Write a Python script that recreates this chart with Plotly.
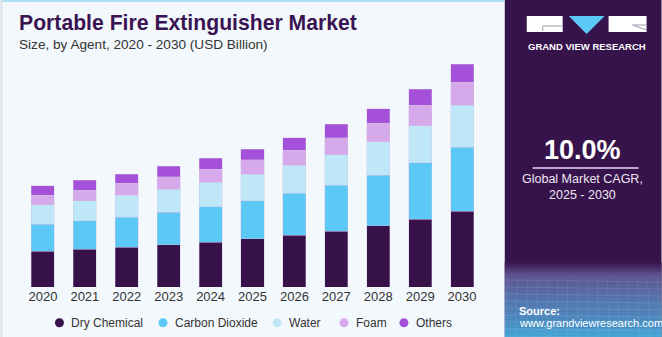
import plotly.graph_objects as go

# Market size by agent, USD billion
years = ["2020", "2021", "2022", "2023", "2024", "2025", "2026", "2027", "2028", "2029", "2030"]
dry_chemical = [3.19, 3.37, 3.55, 3.76, 4.00, 4.30, 4.65, 5.01, 5.49, 6.06, 6.77]
carbon_dioxide = [2.42, 2.56, 2.71, 2.95, 3.16, 3.40, 3.73, 4.09, 4.51, 5.06, 5.73]
water = [1.73, 1.79, 1.97, 2.03, 2.21, 2.39, 2.51, 2.74, 3.01, 3.31, 3.76]
foam = [0.89, 0.96, 1.05, 1.13, 1.16, 1.28, 1.37, 1.52, 1.65, 1.85, 2.06]
others = [0.81, 0.89, 0.83, 0.93, 0.98, 0.98, 1.10, 1.20, 1.31, 1.43, 1.61]

series_names = ["Dry Chemical", "Carbon Dioxide", "Water", "Foam", "Others"]
series_values = [dry_chemical, carbon_dioxide, water, foam, others]
series_colors = ["#36114A", "#5BC8F5", "#BEE8F8", "#D5A9EA", "#A550D8"]

label_year = "2023"
cagr_text = "10.0%"

W, H = 662, 337
L, R, T, B = 21.5, 178.8, 50, 50
PW, PH = W - L - R, H - T - B
FONT = "Liberation Sans"


def xp(px):
    return (px - L) / PW


def yp(py):
    return (H - B - py) / PH


fig = go.Figure()
for name, vals, col in zip(series_names, series_values, series_colors):
    fig.add_trace(go.Bar(
        x=years, y=vals, name=name, marker_color=col,
        marker_line=dict(color="rgba(210,190,230,0.6)", width=0.6),
        showlegend=False, hoverinfo="skip",
    ))

totals = [sum(v) for v in zip(*series_values)]
idx = years.index(label_year)

shapes = []
annotations = []

# right side panel
shapes.append(dict(type="rect", xref="paper", yref="paper", x0=xp(505), x1=xp(662),
                   y0=yp(337), y1=yp(0), fillcolor="#37134B", line_width=0, layer="below"))
# gradient at the bottom of the panel
g_top, g_bot = 262, 337
n = 38
c0 = (55, 19, 75)
c1 = (95, 85, 145)
c2 = (70, 165, 215)
for i in range(n):
    y0 = g_top + (g_bot - g_top) * i / n
    y1 = g_top + (g_bot - g_top) * (i + 1) / n
    t = (i + 0.5) / n
    if t < 0.18:
        s = t / 0.18
        c = tuple(int(c0[k] + (c1[k] - c0[k]) * s) for k in range(3))
    else:
        s = (t - 0.18) / 0.82
        c = tuple(int(c1[k] + (c2[k] - c1[k]) * s) for k in range(3))
    shapes.append(dict(type="rect", xref="paper", yref="paper", x0=xp(505), x1=xp(662),
                       y0=yp(y1 + 0.5), y1=yp(y0), fillcolor="rgb(%d,%d,%d)" % c,
                       line_width=0, layer="below"))
# faint mesh texture lines
for k in range(9):
    yy = 280 + k * 7
    shapes.append(dict(type="line", xref="paper", yref="paper", x0=xp(505), x1=xp(662),
                       y0=yp(yy), y1=yp(yy + 2), line=dict(color="rgba(200,220,255,0.14)", width=1)))
for k in range(16):
    xx = 508 + k * 10
    shapes.append(dict(type="line", xref="paper", yref="paper", x0=xp(xx), x1=xp(xx - 3 + k * 0.4),
                       y0=yp(278), y1=yp(337), line=dict(color="rgba(200,220,255,0.10)", width=1)))

# top and left border lines
shapes.append(dict(type="rect", xref="paper", yref="paper", x0=xp(0), x1=xp(505),
                   y0=yp(2), y1=yp(0), fillcolor="#AEE0F4", line_width=0, layer="below"))
shapes.append(dict(type="rect", xref="paper", yref="paper", x0=xp(0), x1=xp(2),
                   y0=yp(337), y1=yp(0), fillcolor="#DDE2E8", line_width=0, layer="below"))

# logo
shapes.append(dict(type="rect", xref="paper", yref="paper", x0=xp(527), x1=xp(563),
                   y0=yp(32), y1=yp(16), fillcolor="white", line_width=0))
shapes.append(dict(type="rect", xref="paper", yref="paper", x0=xp(609), x1=xp(647),
                   y0=yp(32), y1=yp(16), fillcolor="white", line_width=0))
tri = "M %f,%f L %f,%f L %f,%f Z" % (xp(569), yp(16), xp(605), yp(16), xp(587), yp(34))
shapes.append(dict(type="path", xref="paper", yref="paper", path=tri, fillcolor="#5BC8F5", line_width=0))
shapes.append(dict(type="line", xref="paper", yref="paper", x0=xp(543), x1=xp(563),
                   y0=yp(26), y1=yp(26), line=dict(color="#9A9AA8", width=1)))
shapes.append(dict(type="line", xref="paper", yref="paper", x0=xp(543), x1=xp(543),
                   y0=yp(26), y1=yp(31), line=dict(color="#9A9AA8", width=1)))
shapes.append(dict(type="line", xref="paper", yref="paper", x0=xp(633), x1=xp(647),
                   y0=yp(25), y1=yp(30), line=dict(color="#9A9AA8", width=1)))
shapes.append(dict(type="line", xref="paper", yref="paper", x0=xp(633), x1=xp(647),
                   y0=yp(25), y1=yp(25), line=dict(color="#9A9AA8", width=1)))
annotations.append(dict(text="<b>GRAND VIEW RESEARCH</b>", xref="paper", yref="paper",
                        x=xp(587), y=yp(46.5), xanchor="center", yanchor="middle", showarrow=False,
                        font=dict(family=FONT, size=9.5, color="white")))

# CAGR block
annotations.append(dict(text="<b>%s</b>" % cagr_text, xref="paper", yref="paper",
                        x=xp(583), y=yp(150), xanchor="center", yanchor="middle", showarrow=False,
                        font=dict(family=FONT, size=27, color="white")))
shapes.append(dict(type="line", xref="paper", yref="paper", x0=xp(533), x1=xp(639),
                   y0=yp(168), y1=yp(168), line=dict(color="#B9A8CB", width=2)))
annotations.append(dict(text="Global Market CAGR,<br>2025 - 2030", xref="paper", yref="paper",
                        x=xp(583), y=yp(187), xanchor="center", yanchor="middle", showarrow=False,
                        font=dict(family=FONT, size=12.5, color="#EDE6F2"), align="center"))

# source
annotations.append(dict(text="<b>Source:</b>", xref="paper", yref="paper",
                        x=xp(517), y=yp(311), xanchor="left", yanchor="middle", showarrow=False,
                        font=dict(family=FONT, size=11, color="white")))
annotations.append(dict(text="www.grandviewresearch.com", xref="paper", yref="paper",
                        x=xp(517), y=yp(323), xanchor="left", yanchor="middle", showarrow=False,
                        font=dict(family=FONT, size=11, color="white")))

# titles
annotations.append(dict(text="<b>Portable Fire Extinguisher Market</b>", xref="paper", yref="paper",
                        x=xp(16), y=yp(23), xanchor="left", yanchor="middle", showarrow=False,
                        font=dict(family=FONT, size=21.2, color="#3A1452")))
annotations.append(dict(text="Size, by Agent, 2020 - 2030 (USD Billion)", xref="paper", yref="paper",
                        x=xp(16), y=yp(44), xanchor="left", yanchor="middle", showarrow=False,
                        font=dict(family=FONT, size=13.6, color="#333333")))

# value label
annotations.append(dict(text="$%.1fB" % totals[idx], x=label_year, y=totals[idx],
                        xref="x", yref="y", yshift=14, showarrow=False, yanchor="middle",
                        font=dict(family=FONT, size=13, color="#333333")))

# legend
legend_marker_x = [59, 162.7, 277, 344, 404]
for name, col, mx in zip(series_names, series_colors, legend_marker_x):
    r = 4.5
    cy = 322.7
    shapes.append(dict(type="circle", xref="paper", yref="paper", x0=xp(mx - r), x1=xp(mx + r),
                       y0=yp(cy + r), y1=yp(cy - r), fillcolor=col, line_width=0))
    annotations.append(dict(text=name, xref="paper", yref="paper", x=xp(mx + 10), y=yp(cy),
                            xanchor="left", yanchor="middle", showarrow=False,
                            font=dict(family=FONT, size=12, color="#333333")))

fig.update_layout(
    width=W, height=H,
    margin=dict(l=L, r=R, t=T, b=B, pad=0),
    paper_bgcolor="#F3F8FC", plot_bgcolor="rgba(0,0,0,0)",
    barmode="stack", bargap=0.45,
    shapes=shapes, annotations=annotations,
    font=dict(family=FONT, color="#333333"),
    xaxis=dict(type="category", range=[-0.5, 10.5], showgrid=False, showline=False, zeroline=False,
               ticks="", tickfont=dict(family=FONT, size=13, color="#333333"), fixedrange=True),
    yaxis=dict(range=[0, 21.21], visible=False, fixedrange=True),
    showlegend=False,
)

fig.write_html("out.html", config={"displayModeBar": False})
